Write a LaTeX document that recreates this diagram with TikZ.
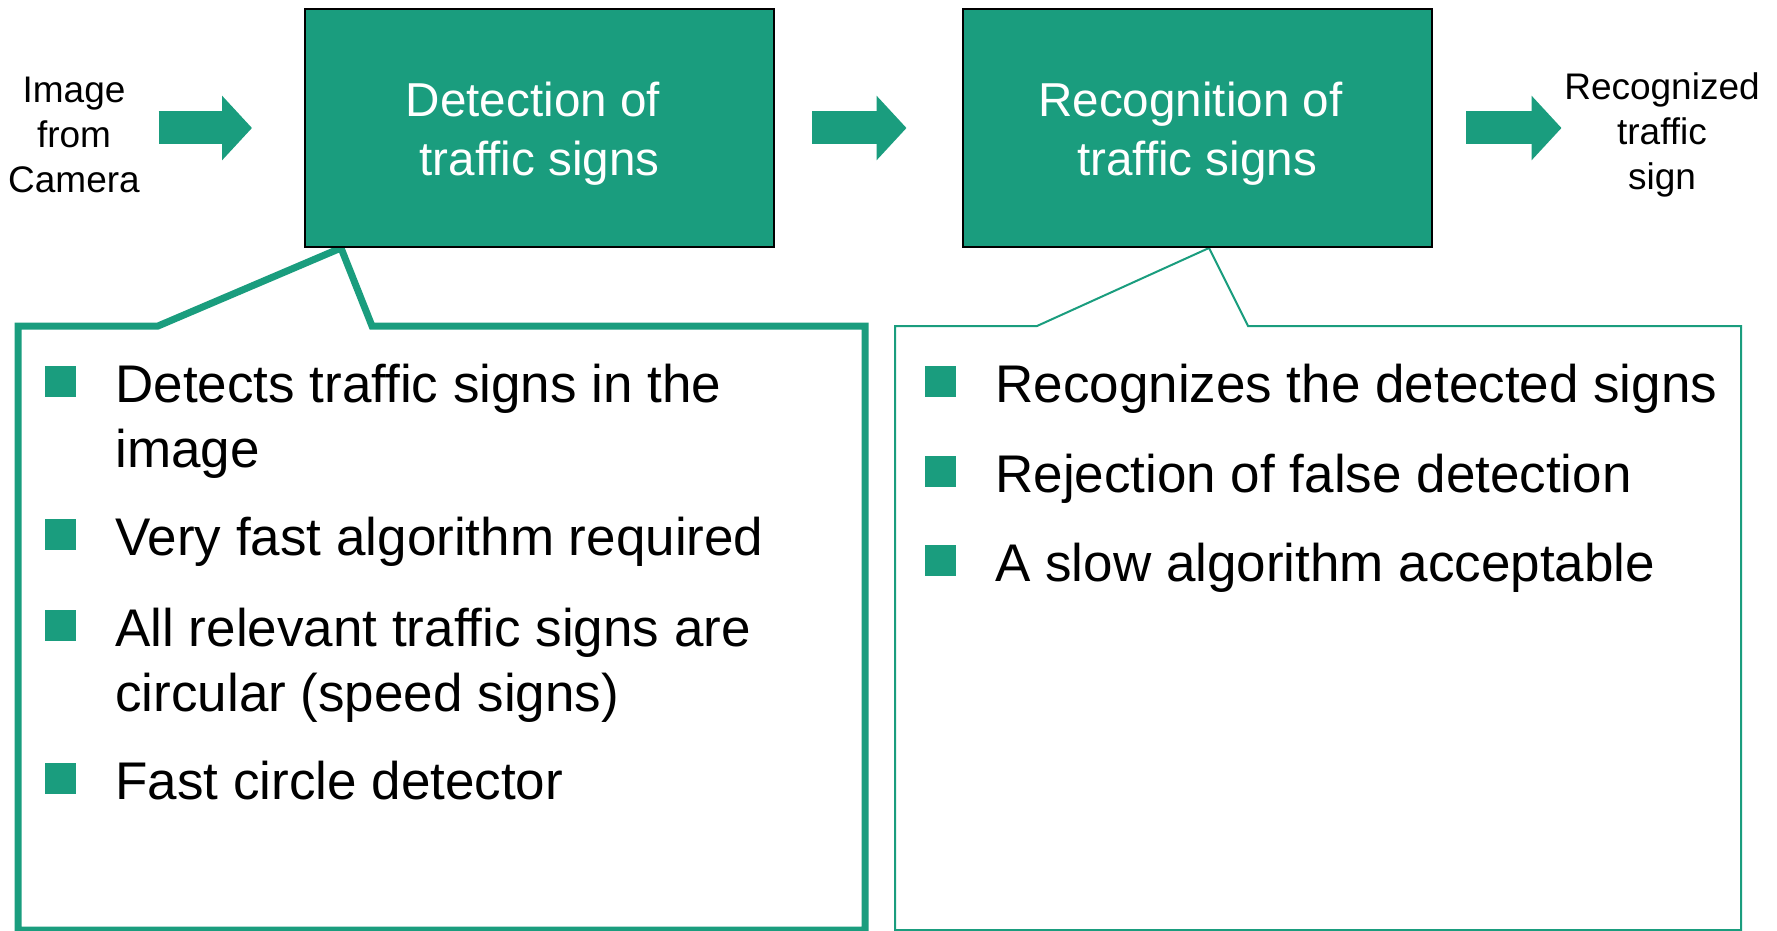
\documentclass[tikz,border=0pt]{standalone}
\usepackage{fontspec}
\setmainfont{Liberation Sans}
\usetikzlibrary{arrows.meta,backgrounds}

\definecolor{signgreen}{RGB}{26,157,126}

\begin{document}
\begin{tikzpicture}[x=0.5pt,y=-0.5pt]

\tikzstyle{stage} = [draw=black, line width=1pt, fill=signgreen, text=white, minimum width=234.5pt, minimum height=119pt, align=center, font=\fontsize{23.8}{29.5}\selectfont]
\tikzstyle{io} = [align=center, inner sep=0pt, font=\fontsize{18.5}{22.5}\selectfont]
\tikzstyle{fat} = [draw=signgreen, line width=16.5pt, -{Triangle[length=15pt,width=31.5pt]}]
\tikzstyle{bullettext} = [anchor=north west, align=left, inner sep=0pt, font=\fontsize{26.5}{32.5}\selectfont]
\tikzstyle{bulletsq} = [fill=signgreen, minimum size=15.5pt, inner sep=0pt, anchor=north west]

\useasboundingbox (0,0) rectangle (1777,931);

% strut on the first line pushes the two lines a bit lower in the box
\node [stage] (detect) at (539.5,128) {\rule{0pt}{23.1pt}Detection of\hphantom{~}\\traffic signs};
\node [stage] (recog) at (1197,128) {\rule{0pt}{23.1pt}Recognition of\hphantom{~}\\traffic signs};
\node [io] (camera) at (74,135) {Image\\from\\Camera};
\node [io] (result) at (1662,135) {Recognized\\traffic\\sign};

%arrows
\draw [fat, shorten <=9.25pt, shorten >=26pt] (camera.east |- detect.west) -- (detect.west);
\draw [fat, shorten <=18.5pt, shorten >=27.5pt] (detect.east) -- (recog.west);
\draw [fat, shorten <=16.75pt, shorten >=1.2pt] (recog.east) -- (recog.east -| result.west);

%callouts under the two stages
\coordinate (dettip) at ([xshift=18.5pt]detect.south west);
\coordinate (rectip) at ([xshift=6pt]recog.south);
\begin{scope}[on background layer]
\draw [signgreen, line width=3.5pt] (18,930) -- (18,326) -- (158,326) -- (dettip) -- (372,326) -- (865,326) -- (865,930) -- cycle;
\draw [signgreen, line width=1pt] (895,930) -- (895,326) -- (1037,326) -- (rectip) -- (1248,326) -- (1741,326) -- (1741,930) -- cycle;
\end{scope}

\node [bullettext] (det1) at (115,363.5) {Detects traffic signs in the\\image};
\node [bullettext] (det2) at (115,516.5) {Very fast algorithm required};
\node [bullettext] (det3) at (115,607.5) {All relevant traffic signs are\\circular (speed signs)};
\node [bullettext] (det4) at (115,760.5) {Fast circle detector};
\node [bullettext] (rec1) at (995,363.5) {Recognizes the detected signs};
\node [bullettext] (rec2) at (995,453.5) {Rejection of false detection};
\node [bullettext] (rec3) at (995,542.5) {A slow algorithm acceptable};

%square bullets
\foreach \n in {det1,det2,det3,det4,rec1,rec2,rec3}
  \node [bulletsq] at ([xshift=-35.25pt,yshift=-1.25pt]\n.north west) {};
\end{tikzpicture}
\end{document}
